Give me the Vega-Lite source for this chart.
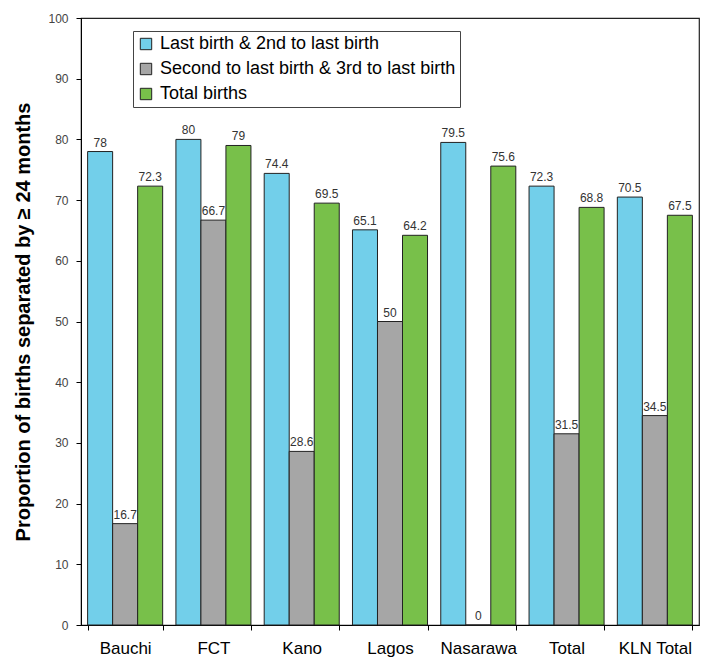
{
  "$schema": "https://vega.github.io/schema/vega-lite/v6.json",
  "autosize": "none",
  "width": 618,
  "height": 607,
  "padding": {"left": 81, "top": 18, "right": 4, "bottom": 37},
  "background": "white",
  "config": {
    "font": "Liberation Sans",
    "view": {"stroke": "#222", "strokeWidth": 1.2}
  },
  "data": {
    "values": [
      {"region": "Bauchi", "series": "Last birth & 2nd to last birth", "value": 78},
      {"region": "Bauchi", "series": "Second to last birth & 3rd to last birth", "value": 16.7},
      {"region": "Bauchi", "series": "Total births", "value": 72.3},
      {"region": "FCT", "series": "Last birth & 2nd to last birth", "value": 80},
      {"region": "FCT", "series": "Second to last birth & 3rd to last birth", "value": 66.7},
      {"region": "FCT", "series": "Total births", "value": 79},
      {"region": "Kano", "series": "Last birth & 2nd to last birth", "value": 74.4},
      {"region": "Kano", "series": "Second to last birth & 3rd to last birth", "value": 28.6},
      {"region": "Kano", "series": "Total births", "value": 69.5},
      {"region": "Lagos", "series": "Last birth & 2nd to last birth", "value": 65.1},
      {"region": "Lagos", "series": "Second to last birth & 3rd to last birth", "value": 50},
      {"region": "Lagos", "series": "Total births", "value": 64.2},
      {"region": "Nasarawa", "series": "Last birth & 2nd to last birth", "value": 79.5},
      {"region": "Nasarawa", "series": "Second to last birth & 3rd to last birth", "value": 0},
      {"region": "Nasarawa", "series": "Total births", "value": 75.6},
      {"region": "Total", "series": "Last birth & 2nd to last birth", "value": 72.3},
      {"region": "Total", "series": "Second to last birth & 3rd to last birth", "value": 31.5},
      {"region": "Total", "series": "Total births", "value": 68.8},
      {"region": "KLN Total", "series": "Last birth & 2nd to last birth", "value": 70.5},
      {"region": "KLN Total", "series": "Second to last birth & 3rd to last birth", "value": 34.5},
      {"region": "KLN Total", "series": "Total births", "value": 67.5}
    ]
  },
  "encoding": {
    "x": {
      "field": "region",
      "type": "nominal",
      "sort": ["Bauchi", "FCT", "Kano", "Lagos", "Nasarawa", "Total", "KLN Total"],
      "scale": {"paddingInner": 0.15, "paddingOuter": 0.075},
      "axis": {
        "title": null,
        "labelAngle": 0,
        "labelFontSize": 17,
        "labelColor": "#000",
        "labelPadding": 10,
        "tickBand": "extent",
        "tickSize": 5,
        "tickColor": "#000",
        "domainColor": "#000",
        "grid": false
      }
    },
    "xOffset": {
      "field": "series",
      "type": "nominal",
      "sort": ["Last birth & 2nd to last birth", "Second to last birth & 3rd to last birth", "Total births"]
    },
    "y": {
      "field": "value",
      "type": "quantitative",
      "scale": {"domain": [0, 100]},
      "axis": {
        "title": "Proportion of births separated by ≥ 24 months",
        "titleFontSize": 20,
        "titleFontWeight": "bold",
        "titleColor": "#000",
        "titlePadding": 14,
        "values": [0, 10, 20, 30, 40, 50, 60, 70, 80, 90, 100],
        "labelFontSize": 12,
        "labelColor": "#444",
        "labelPadding": 8,
        "tickSize": 5,
        "tickColor": "#000",
        "domainColor": "#000",
        "grid": false
      }
    }
  },
  "layer": [
    {
      "mark": {"type": "bar", "stroke": "#222", "strokeWidth": 1},
      "encoding": {
        "color": {
          "field": "series",
          "type": "nominal",
          "sort": ["Last birth & 2nd to last birth", "Second to last birth & 3rd to last birth", "Total births"],
          "scale": {"range": ["#72CFEA", "#A6A6A6", "#78C04A"]},
          "legend": {
            "title": null,
            "orient": "none",
            "legendX": 52,
            "legendY": 13,
            "direction": "vertical",
            "symbolType": "square",
            "symbolSize": 130,
            "symbolStrokeColor": "#222",
            "symbolStrokeWidth": 1,
            "labelFontSize": 18,
            "labelColor": "#000",
            "labelLimit": 400,
            "labelOffset": 5,
            "rowPadding": 7,
            "padding": 4,
            "strokeColor": "#444",
            "fillColor": "white"
          }
        }
      }
    },
    {
      "mark": {"type": "text", "dy": -9, "fontSize": 12, "color": "#333"},
      "encoding": {
        "text": {"field": "value", "type": "quantitative"}
      }
    }
  ]
}
